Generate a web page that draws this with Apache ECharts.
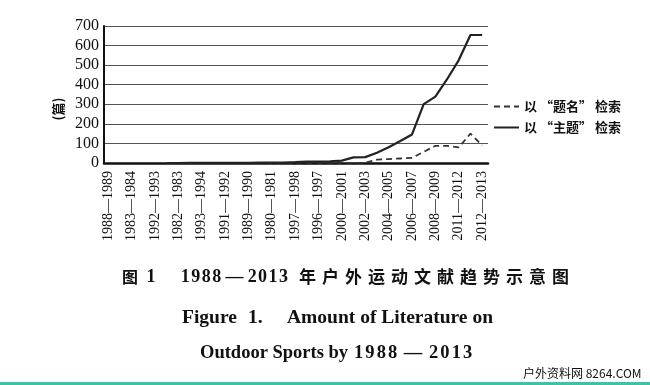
<!DOCTYPE html>
<html>
<head>
<meta charset="utf-8">
<script src="https://cdn.jsdelivr.net/npm/echarts@6/dist/echarts.min.js"></script>
<style>
html,body{margin:0;padding:0;background:#fff;}
#c{width:650px;height:385px;}
</style>
</head>
<body>
<div id="c"></div>
<script>
// Tick labels shown under every second point (as printed in the source figure)
const tickLabels = ['1988—1989','1983—1984','1992—1993','1982—1983','1993—1994','1991—1992','1989—1990','1980—1981','1997—1998','1996—1997','2000—2001','2002—2003','2004—2005','2006—2007','2008—2009','2011—2012','2012—2013'];
const seriesNames = ['以 “题名” 检索', '以 “主题” 检索'];
// 33 yearly points (index 0..32); null = no data
const titleHits = [null,null,null,null,null,0,0,0,0,0,0,0,0,0,0,0,1,1,1,1,1,1,1,17,20,23,26,57,88,87,80,150,90];
const topicHits = [null,null,null,null,null,0,0,1,1,1,1,1,1,2,2,2,4,7,7,8,12,29,30,52,80,112,146,301,339,428,526,654,654];
const yMin = 0, yMax = 700, yStep = 100;
const yName = '(篇)';

function pairs(arr){ const out=[]; arr.forEach((v,i)=>{ if(v!==null) out.push([i,v]); }); return out; }

const serif = '"Liberation Serif", "Times New Roman", serif';
const cjk = '"Noto Sans CJK SC", sans-serif';

const graphics = [];
function txt(x, y, text, font, size, weight, align, extra){
  graphics.push(Object.assign({type:'text', x:x, y:y, silent:true,
    style:{text:text, fontFamily:font, fontSize:size, fontWeight:weight||'normal', fill:'#111', align:align||'left', verticalAlign:'middle'}}, extra||{}));
}
function row(str, x0, pitch, y, font, size, weight){
  Array.from(str).forEach((ch,i)=> txt(x0 + pitch/2 + i*pitch, y, ch, font, size, weight, 'center'));
}
// y-axis name
txt(58, 109, yName, cjk, 13, 'bold', 'center', {rotation: Math.PI/2});
// caption line 1
const L1 = 277;
txt(130, L1, '图', cjk, 16, 'bold', 'center');
txt(151, L1, '1', serif, 18, 'bold', 'center');
row('1988', 180, 10.5, L1, serif, 18, 'bold');
txt(234.5, L1, '—', serif, 18, 'bold', 'center');
row('2013', 247, 10.4, L1, serif, 18, 'bold');
row('年户外运动文献趋势示意图', 296, 23, L1, cjk, 17, 'bold');
// caption line 2
const L2 = 318;
txt(182, L2, 'Figure', serif, 19.5, 'bold', 'left');
txt(248, L2, '1.', serif, 19.5, 'bold', 'left');
txt(287, L2, 'Amount of Literature on', serif, 19.5, 'bold', 'left');
// caption line 3
const L3 = 353;
txt(200, L3, 'Outdoor Sports by', serif, 18.5, 'bold', 'left');
row('1988', 353, 11.3, L3, serif, 18.5, 'bold');
txt(413, L3, '—', serif, 18.5, 'bold', 'center');
row('2013', 428, 11.3, L3, serif, 18.5, 'bold');
// watermark + bottom rule
txt(523, 373, '户外资料网 8264.COM', '"Noto Sans CJK SC", "DejaVu Sans Mono", monospace', 12, 'normal', 'left');
graphics.push({type:'rect', silent:true, shape:{x:0, y:382, width:650, height:3}, style:{fill:'#3ec2a2'}});

const chart = echarts.init(document.getElementById('c'), null, {renderer:'canvas'});
chart.setOption({
  animation:false,
  backgroundColor:'#fff',
  grid:{left:104, right:162, top:26, bottom:222, containLabel:false},
  legend:{
    orient:'vertical', left:488, top:95, itemWidth:25, itemHeight:12, itemGap:8,
    data:seriesNames,
    itemStyle:{opacity:0},
    textStyle:{fontFamily:cjk, fontSize:13, fontWeight:'bold', color:'#111'}
  },
  xAxis:{
    type:'value', min:-0.35, max:32.5,
    axisLine:{show:true, onZero:false, lineStyle:{color:'#111', width:2.5}},
    axisTick:{show:false},
    splitLine:{show:false},
    axisLabel:{
      customValues: tickLabels.map((_,i)=>i*2),
      formatter: v => tickLabels[Math.round(v/2)],
      rotate:90, margin:8, fontFamily:serif, fontSize:14, color:'#111'
    }
  },
  yAxis:{
    type:'value', min:yMin, max:yMax, interval:yStep,
    axisLine:{show:true, onZero:false, lineStyle:{color:'#111', width:2}},
    axisTick:{show:false},
    splitLine:{show:true, lineStyle:{color:'#555', width:1}},
    axisLabel:{fontFamily:serif, fontSize:16, color:'#111', margin:5}
  },
  series:[
    {name:seriesNames[0], type:'line', symbol:'none', data:pairs(titleHits),
     lineStyle:{color:'#333', width:1.8, type:[6,4]}, itemStyle:{color:'#333'}, z:3},
    {name:seriesNames[1], type:'line', symbol:'none', data:pairs(topicHits),
     lineStyle:{color:'#222', width:2.2, type:'solid'}, itemStyle:{color:'#222'}, z:4}
  ],
  graphic: graphics
});
</script>
</body>
</html>
